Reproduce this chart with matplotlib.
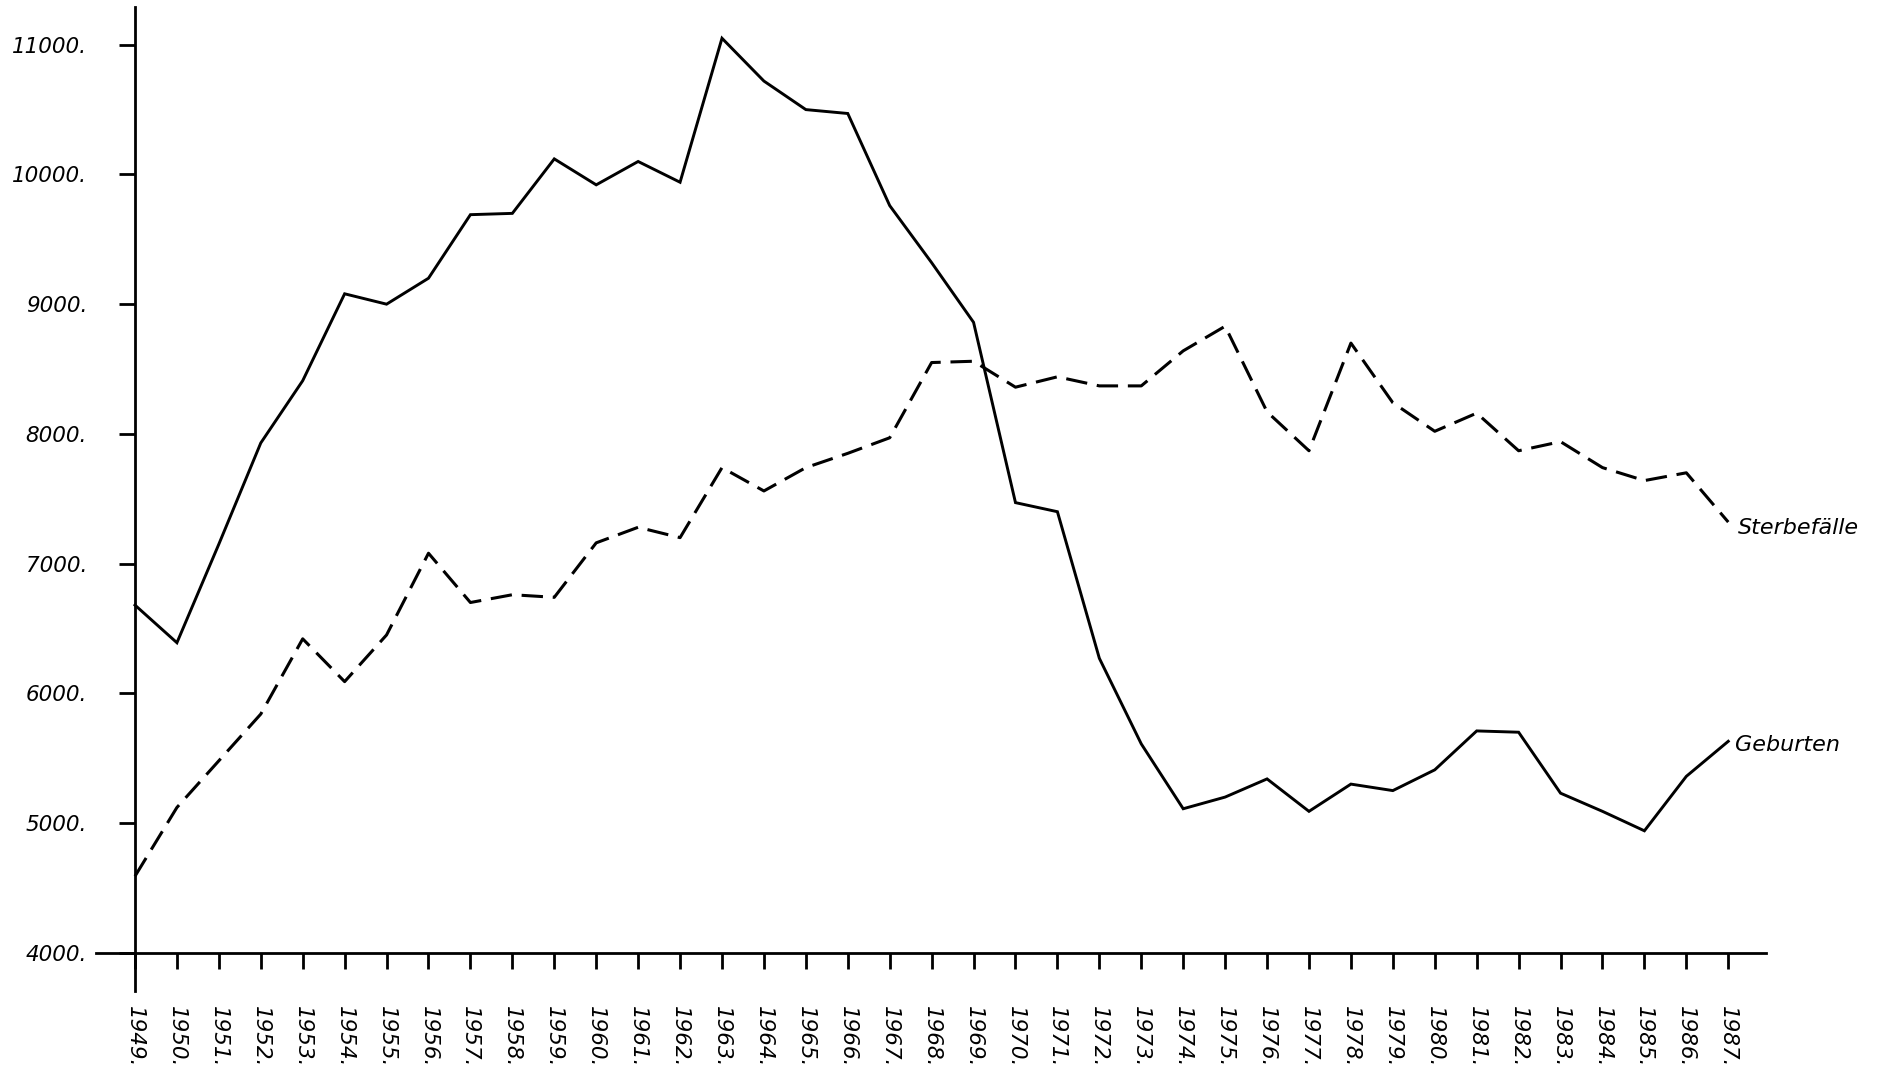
import matplotlib
matplotlib.use("Agg")
import matplotlib.pyplot as plt

years = list(range(1949, 1988))
geburten = [6680, 6390, 7150, 7930, 8410, 9080, 9000, 9200, 9690, 9700,
            10120, 9920, 10100, 9940, 11050, 10720, 10500, 10470, 9760, 9320,
            8860, 7470, 7400, 6270, 5610, 5110, 5200, 5340, 5090, 5300,
            5250, 5410, 5710, 5700, 5230, 5090, 4940, 5360, 5630]
sterbefaelle = [4590, 5120, 5480, 5840, 6420, 6090, 6450, 7080, 6700, 6760,
                6740, 7160, 7280, 7200, 7740, 7560, 7740, 7850, 7970, 8550,
                8560, 8360, 8440, 8370, 8370, 8640, 8830, 8170, 7870, 8700,
                8240, 8020, 8160, 7870, 7940, 7740, 7640, 7700, 7320]
y_ticks = [4000, 5000, 6000, 7000, 8000, 9000, 10000, 11000]
y_labels = [f"{v}." for v in y_ticks]
x_labels = [f"{y}." for y in years]
label_geb = "Geburten"
label_st = "Sterbefälle"

plt.rcParams['font.family'] = ['DejaVu Sans']

W, H = 1878, 1074
fig = plt.figure(figsize=(W / 100, H / 100), dpi=100)
x0, x1 = 96, 1766
y0, y1 = 991, 7
ax = fig.add_axes([x0 / W, (H - y0) / H, (x1 - x0) / W, (y0 - y1) / H])
ax.set_xlim(1948.07, 1987.9)
ax.set_ylim(3705, 11291)

ax.plot(years, geburten, color='black', lw=2.1, solid_joinstyle='miter')
ax.plot(years, sterbefaelle, color='black', lw=2.2,
        linestyle=(0, (7, 3.2)), dash_capstyle='butt')

for s in ['top', 'right']:
    ax.spines[s].set_visible(False)
ax.spines['left'].set_position(('data', 1949))
ax.spines['bottom'].set_position(('data', 4000))
ax.spines['left'].set_linewidth(2)
ax.spines['bottom'].set_linewidth(2)

ax.set_yticks(y_ticks)
ax.set_yticklabels(y_labels, fontsize=15.5, fontstyle='italic')
ax.set_xticks(years)
ax.set_xticklabels(x_labels, fontsize=15.5, fontstyle='italic',
                   rotation=270, ha='center', va='top')
ax.tick_params(axis='y', direction='out', length=11.5, width=2, pad=23)
ax.tick_params(axis='x', direction='out', length=11.5, width=2, pad=27)

ax.annotate(label_st, xy=(years[-1], sterbefaelle[-1]), xytext=(7, -4),
            textcoords='offset points', ha='left', va='center',
            fontsize=16, fontstyle='italic')
ax.annotate(label_geb, xy=(years[-1], geburten[-1]), xytext=(5, -3),
            textcoords='offset points', ha='left', va='center',
            fontsize=16, fontstyle='italic')

fig.savefig("out.png", dpi=100, facecolor='white')
